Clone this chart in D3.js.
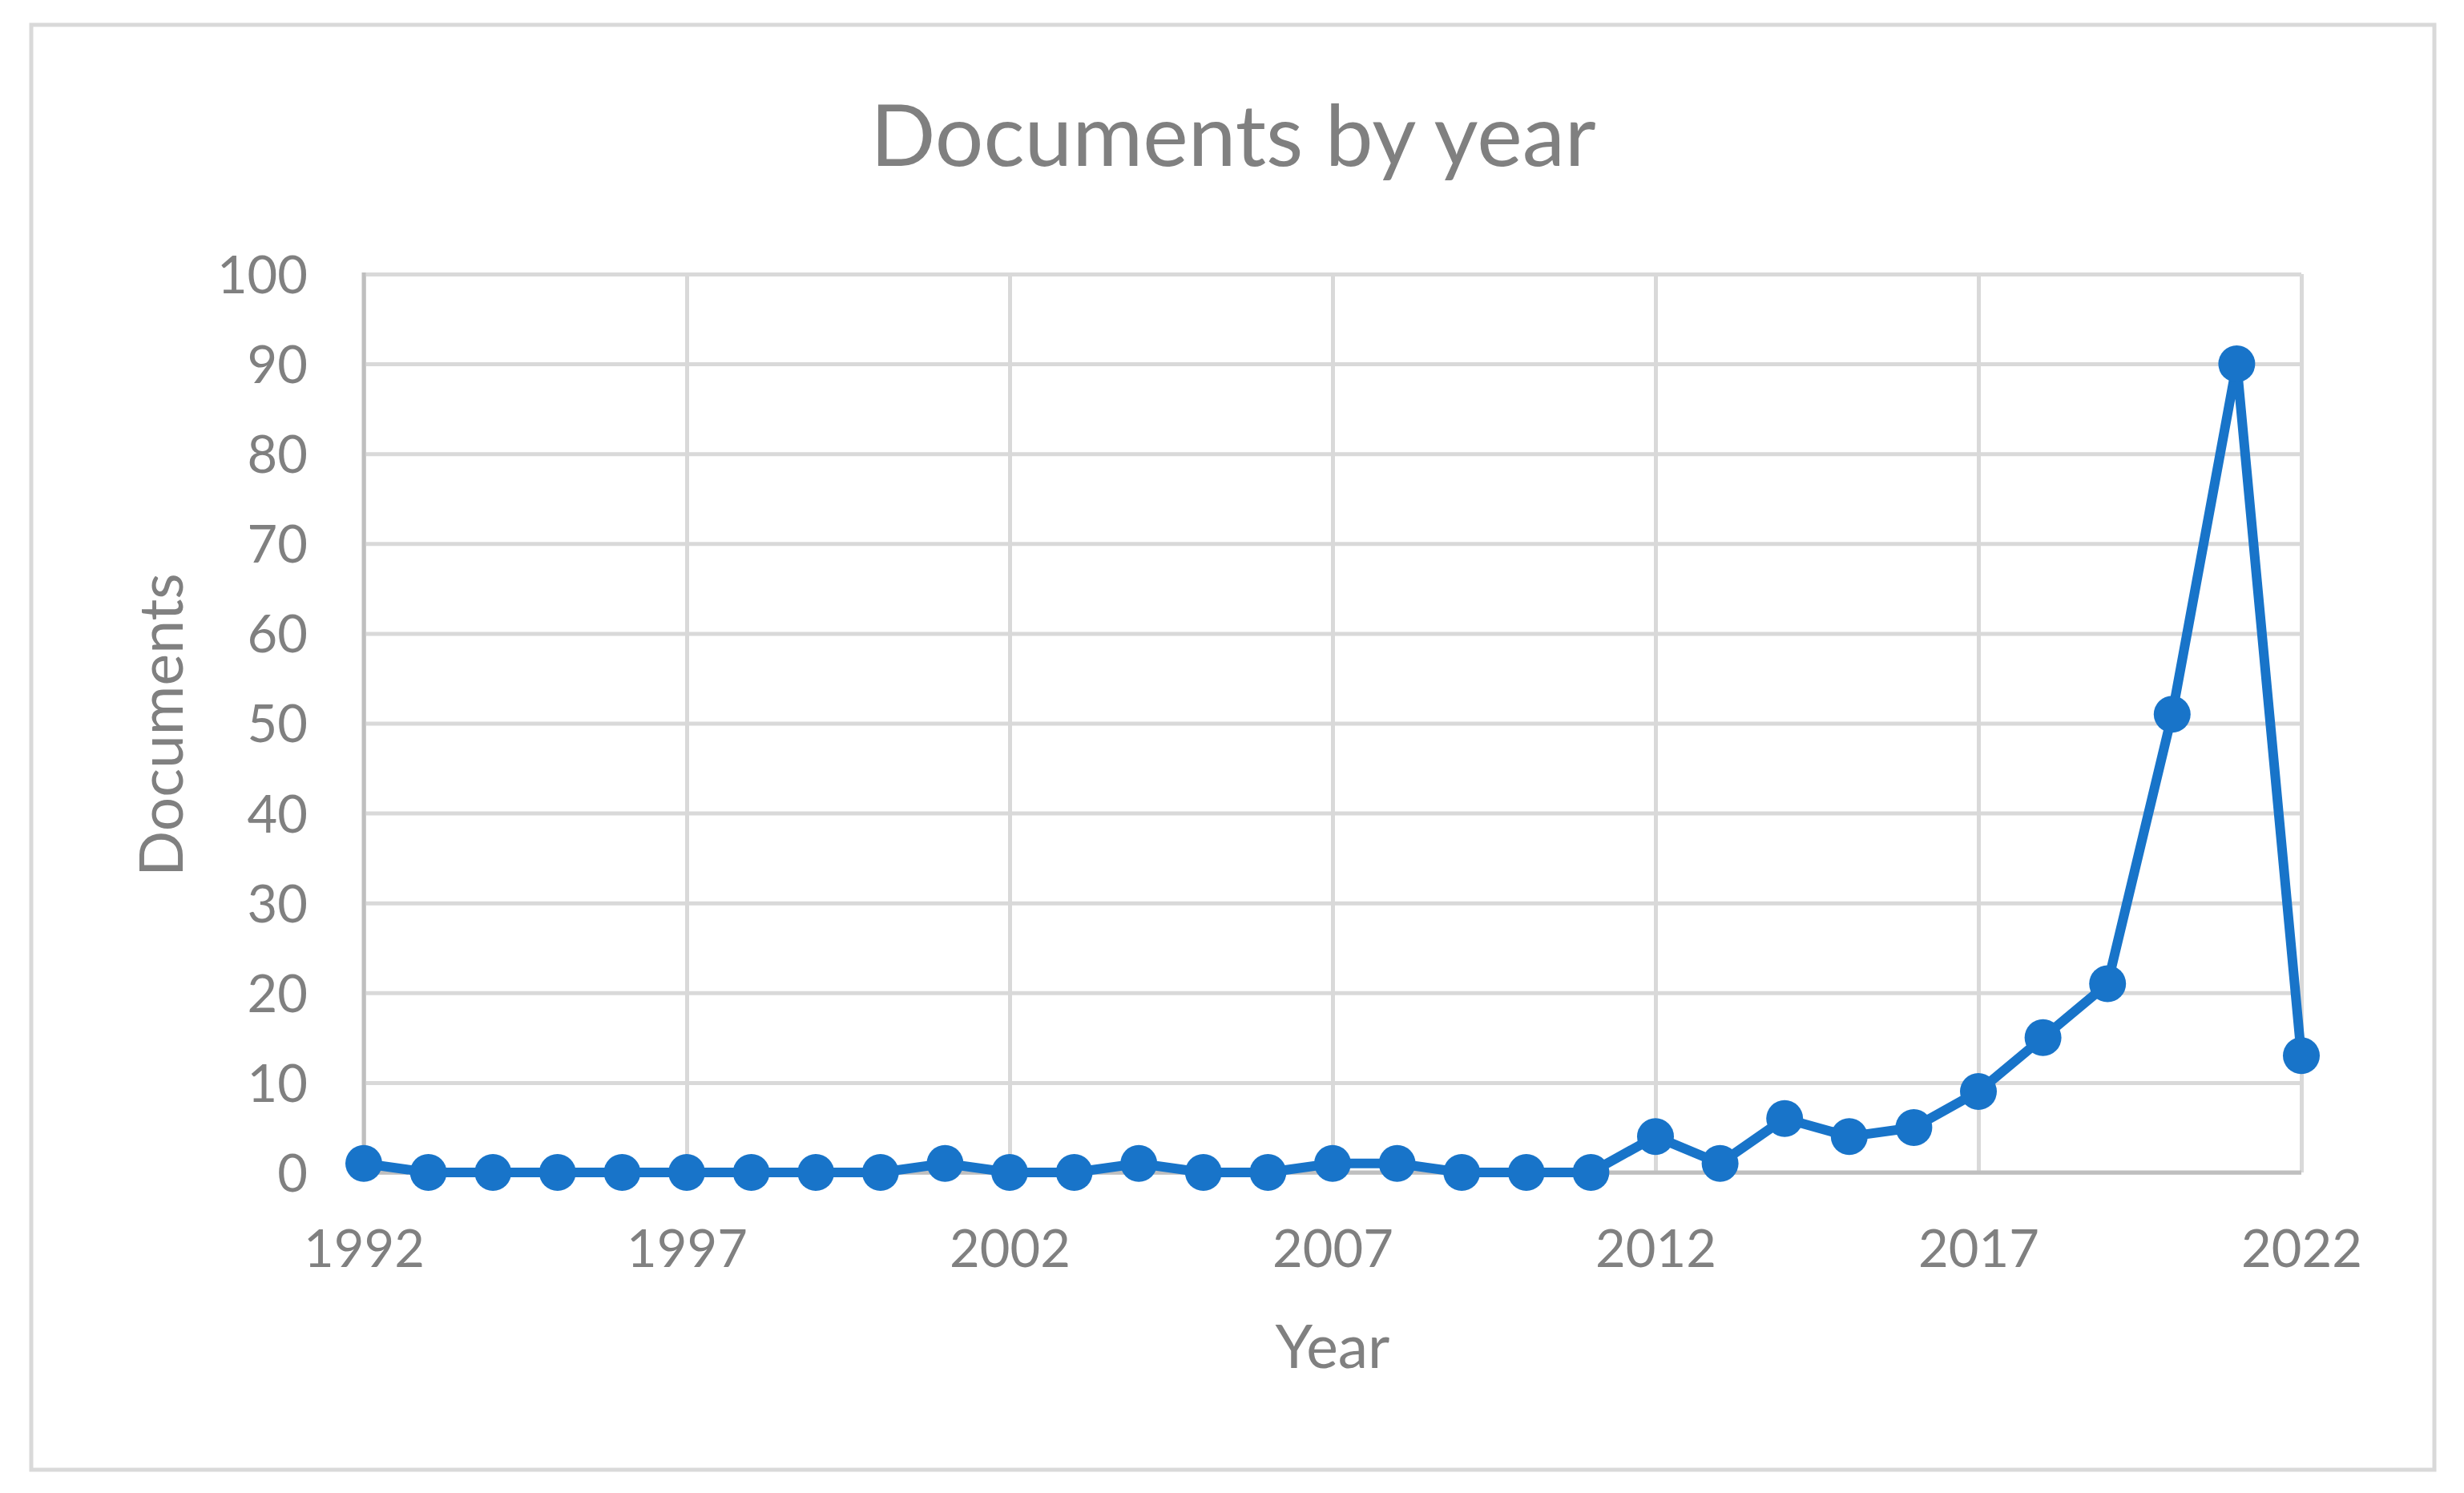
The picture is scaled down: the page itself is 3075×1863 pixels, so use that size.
<!DOCTYPE html>
<html>
<head>
<meta charset="utf-8">
<script src="https://cdn.jsdelivr.net/npm/d3@7"></script>
<style>
  html, body { margin: 0; padding: 0; background: #ffffff; }
  svg { display: block; }
</style>
</head>
<body>
<svg id="chart" width="3075" height="1863"></svg>
<script>
// ---- data ----
const years = [1992,1993,1994,1995,1996,1997,1998,1999,2000,2001,2002,2003,2004,2005,2006,2007,2008,2009,2010,2011,2012,2013,2014,2015,2016,2017,2018,2019,2020,2021,2022];
const documents = [1,0,0,0,0,0,0,0,0,1,0,0,1,0,0,1,1,0,0,0,4,1,6,4,5,9,15,21,51,90,13];
const xTickLabels = [1992,1997,2002,2007,2012,2017,2022];
const yTickLabels = [0,10,20,30,40,50,60,70,80,90,100];
const chartTitle = "Documents by year";
const xTitle = "Year";
const yTitle = "Documents";

// ---- layout ----
const W = 3075, H = 1863;
const plot = { left: 454, right: 2872, top: 342, bottom: 1463 };
const textColor = "#808080";
const fontFam = "Lato, 'Open Sans', sans-serif";
const lineColor = "#1874C9";

const svg = d3.select("#chart");
svg.append("rect").attr("x",0).attr("y",0).attr("width",W).attr("height",H).attr("fill","#ffffff");
svg.append("rect")
  .attr("x",39).attr("y",31).attr("width",3038-39).attr("height",1834-31)
  .attr("fill","#ffffff").attr("stroke","#d9d9d9").attr("stroke-width",5);

const x = d3.scaleLinear().domain([1992,2022]).range([plot.left, plot.right]);
const y = d3.scaleLinear().domain([0,100]).range([plot.bottom, plot.top]);

// horizontal gridlines + y labels
const yAxis = d3.axisLeft(y)
  .tickValues(yTickLabels)
  .tickSize(-(plot.right - plot.left))
  .tickPadding(70)
  .tickFormat(d3.format("d"));
const gy = svg.append("g").attr("transform", `translate(${plot.left},0)`).call(yAxis);
gy.select(".domain").remove();
gy.selectAll(".tick line").attr("stroke","#d9d9d9").attr("stroke-width",5);
gy.selectAll(".tick text")
  .attr("fill", textColor).attr("font-family", fontFam).attr("font-size", 65).attr("dy","0.36em");

// vertical gridlines + x labels
const xAxis = d3.axisBottom(x)
  .tickValues(xTickLabels)
  .tickSize(-(plot.bottom - plot.top))
  .tickPadding(72)
  .tickFormat(d3.format("d"));
const gx = svg.append("g").attr("transform", `translate(0,${plot.bottom})`).call(xAxis);
gx.select(".domain").remove();
gx.selectAll(".tick line").attr("stroke","#d9d9d9").attr("stroke-width",5);
gx.selectAll(".tick text")
  .attr("fill", textColor).attr("font-family", fontFam).attr("font-size", 65);

// axis lines
svg.append("line").attr("x1",plot.left).attr("x2",plot.left).attr("y1",plot.top-2).attr("y2",plot.bottom+3)
  .attr("stroke","#bfbfbf").attr("stroke-width",5);
svg.append("line").attr("x1",plot.left).attr("x2",plot.right).attr("y1",plot.bottom).attr("y2",plot.bottom)
  .attr("stroke","#bfbfbf").attr("stroke-width",5);

// series
const pts = years.map((yr,i) => ({yr, v: documents[i]}));
const line = d3.line().x(d => x(d.yr)).y(d => y(d.v));
svg.append("path").datum(pts)
  .attr("d", line).attr("fill","none").attr("stroke",lineColor)
  .attr("stroke-width",12).attr("stroke-linejoin","round");
svg.append("g").selectAll("circle").data(pts).join("circle")
  .attr("cx", d => x(d.yr)).attr("cy", d => y(d.v)).attr("r", 23)
  .attr("fill", lineColor);

// titles
svg.append("text").attr("x",1539).attr("y",207).attr("text-anchor","middle")
  .attr("fill",textColor).attr("font-family",fontFam).attr("font-size",107).text(chartTitle);
svg.append("text").attr("x",(plot.left+plot.right)/2).attr("y",1707).attr("text-anchor","middle")
  .attr("fill",textColor).attr("font-family",fontFam).attr("font-size",75).text(xTitle);
svg.append("text").attr("transform",`translate(228,${(plot.top+plot.bottom)/2 + 2}) rotate(-90)`)
  .attr("text-anchor","middle")
  .attr("fill",textColor).attr("font-family",fontFam).attr("font-size",75).text(yTitle);
</script>
</body>
</html>
